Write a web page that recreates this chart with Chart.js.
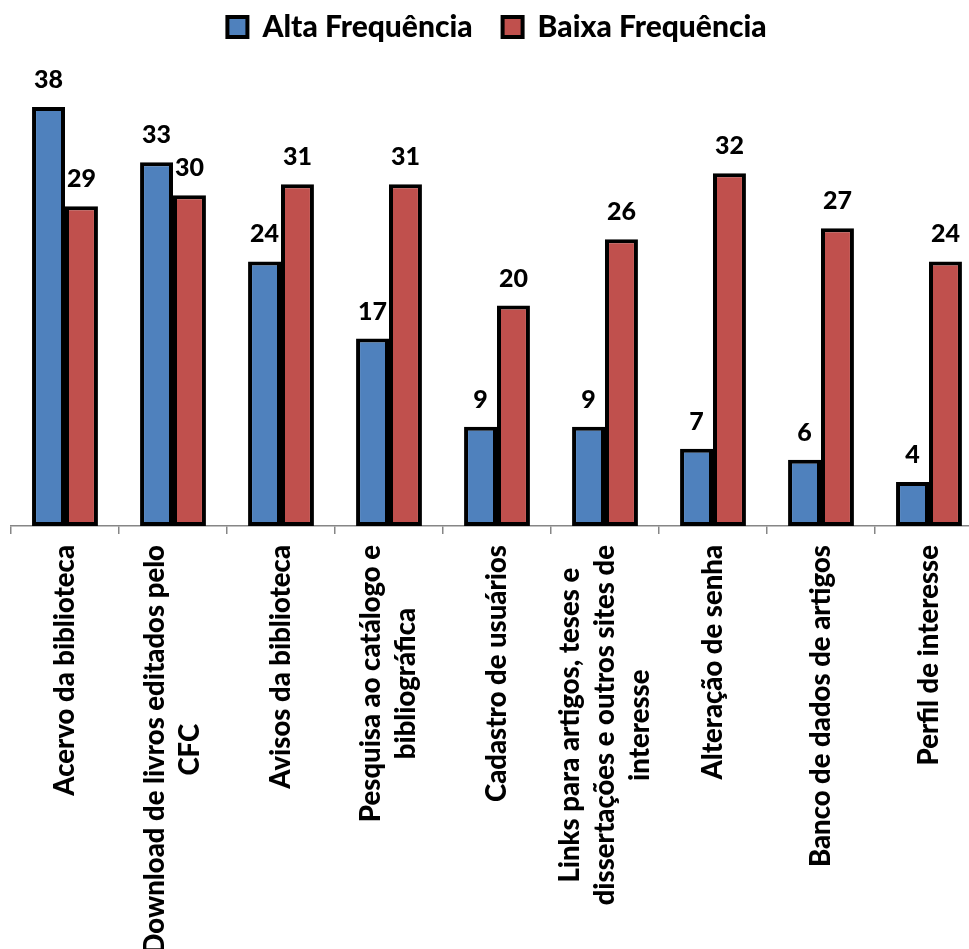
<!DOCTYPE html>
<html>
<head>
<meta charset="utf-8">
<script src="https://cdn.jsdelivr.net/npm/chart.js@4/dist/chart.umd.min.js"></script>
<style>
  html, body { margin: 0; padding: 0; background: #fff; overflow: hidden; }
</style>
</head>
<body>
<canvas id="chart" width="990" height="949"></canvas>
<script>
// Categorias (já quebradas em linhas como no gráfico original)
const categories = [
    ['Acervo da biblioteca'],
    ['Download de livros editados pelo', 'CFC'],
    ['Avisos da biblioteca'],
    ['Pesquisa ao catálogo e', 'bibliográfica'],
    ['Cadastro de usuários'],
    ['Links para artigos, teses e', 'dissertações e outros sites de', 'interesse'],
    ['Alteração de senha'],
    ['Banco de dados de artigos'],
    ['Perfil de interesse']
];

const seriesNames = ['Alta Frequência', 'Baixa Frequência'];
const altaFrequencia = [38, 33, 24, 17, 9, 9, 7, 6, 4];
const baixaFrequencia = [29, 30, 31, 31, 20, 26, 32, 27, 24];

const FONT = 'Lato, Calibri, sans-serif';

// Rótulos do eixo X: girados 90°, centralizados, começando logo abaixo do eixo
const xLabelsPlugin = {
    id: 'xLabels',
    afterDraw(chart) {
        const ctx = chart.ctx;
        const x = chart.scales.x;
        const lineH = 35;
        ctx.save();
        ctx.font = '900 27.5px ' + FONT;
        ctx.fillStyle = '#000';
        ctx.textAlign = 'center';
        ctx.textBaseline = 'middle';
        categories.forEach((lines, i) => {
            const cx = x.getPixelForValue(i);
            const maxW = Math.max(...lines.map(l => ctx.measureText(l).width));
            ctx.save();
            ctx.translate(cx, x.top + 19 + maxW / 2);
            ctx.rotate(-Math.PI / 2);
            lines.forEach((l, j) => {
                ctx.fillText(l, 0, (j - (lines.length - 1) / 2) * lineH);
            });
            ctx.restore();
        });
        ctx.restore();
    }
};

// Valores acima das barras
const valueLabelsPlugin = {
    id: 'valueLabels',
    afterDatasetsDraw(chart) {
        const ctx = chart.ctx;
        ctx.save();
        ctx.font = '900 25px ' + FONT;
        ctx.fillStyle = '#000';
        ctx.textAlign = 'center';
        ctx.textBaseline = 'alphabetic';
        chart.data.datasets.forEach((ds, di) => {
            chart.getDatasetMeta(di).data.forEach((bar, i) => {
                ctx.fillText(ds.data[i], bar.x, bar.y - 19);
            });
        });
        ctx.restore();
    }
};

// Altura fixa da legenda para posicionar a área do gráfico
// (o padding do layout no topo é -18, então a área começa em y = 85)
const legendHeightPlugin = {
    id: 'legendHeight',
    beforeInit(chart) {
        const fit = chart.legend.fit;
        chart.legend.fit = function () {
            fit.call(chart.legend);
            this.height = 103;
        };
    }
};

const ctx = document.getElementById('chart').getContext('2d');
const chart = new Chart(ctx, {
    type: 'bar',
    data: {
        labels: categories,
        datasets: [{
            label: seriesNames[0],
            data: altaFrequencia,
            backgroundColor: '#4F81BD',
            borderColor: '#000',
            borderWidth: 4,
            borderSkipped: false
        }, {
            label: seriesNames[1],
            data: baixaFrequencia,
            backgroundColor: '#C0504D',
            borderColor: '#000',
            borderWidth: 4,
            borderSkipped: false
        }]
    },
    options: {
        responsive: false,
        animation: false,
        layout: { padding: { left: 11, right: 7, top: -18, bottom: 0 } },
        datasets: { bar: { categoryPercentage: 0.61, barPercentage: 1 } },
        plugins: {
            legend: {
                position: 'top',
                labels: {
                    boxWidth: 20,
                    boxHeight: 20,
                    padding: 30,
                    color: '#000',
                    font: { family: FONT, size: 30, weight: '900' }
                }
            },
            tooltip: { enabled: false }
        },
        scales: {
            x: {
                offset: true,
                grid: {
                    offset: true,
                    drawOnChartArea: false,
                    drawTicks: true,
                    tickLength: 8,
                    color: '#868686',
                    lineWidth: 1.5
                },
                border: { color: '#868686', width: 1.5 },
                ticks: { display: false },
                afterFit(scale) { scale.height = 423; }
            },
            y: {
                display: false,
                min: 0,
                max: 40
            }
        }
    },
    plugins: [xLabelsPlugin, valueLabelsPlugin, legendHeightPlugin]
});
</script>
</body>
</html>
